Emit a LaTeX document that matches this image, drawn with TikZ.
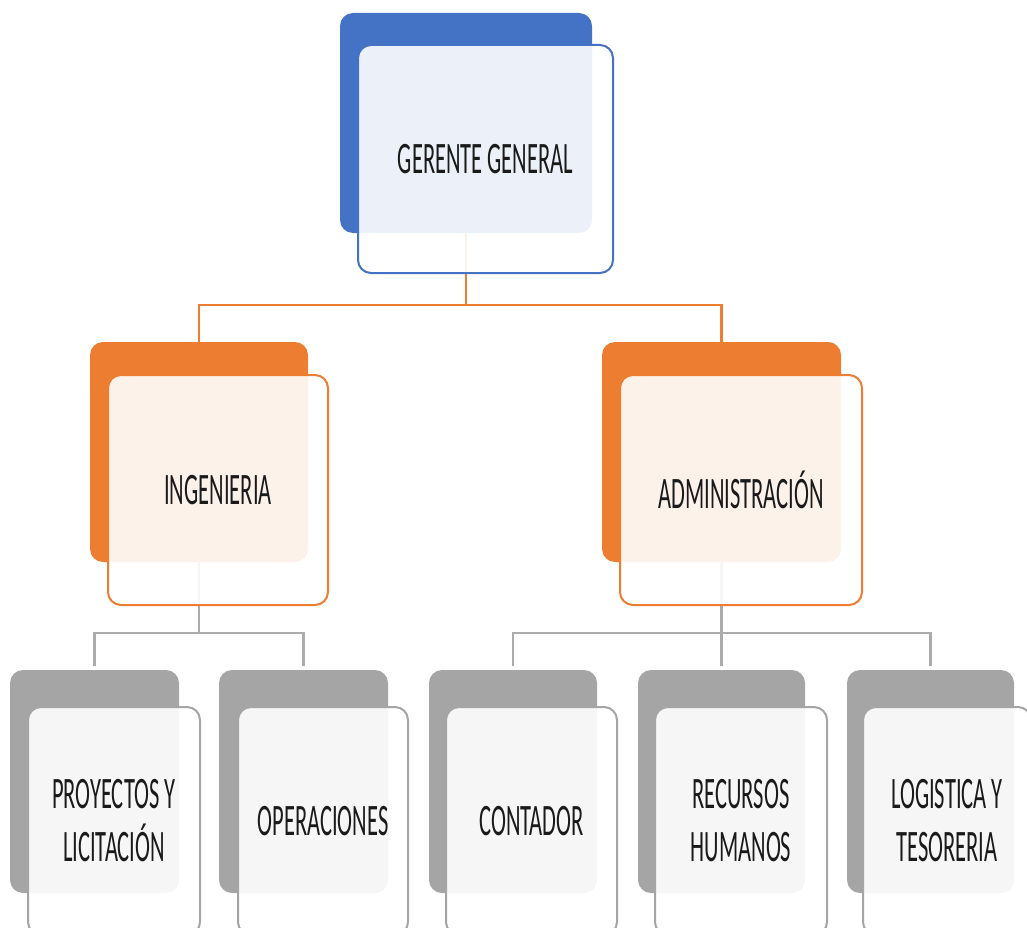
\documentclass[tikz,border=0pt]{standalone}
\usepackage{fontspec}
\newfontfamily\condfont{Carlito}[FakeStretch=0.5]
\definecolor{cblue}{HTML}{4472C4}
\definecolor{corange}{HTML}{ED7D31}
\definecolor{cgray}{HTML}{A5A5A5}
\definecolor{cline}{HTML}{ABABAB}
\definecolor{ctext}{HTML}{1A1A1A}
\begin{document}
\begin{tikzpicture}[x=1pt,y=-1pt,
  backbox/.style={anchor=north west, inner sep=0pt, outer sep=0pt,
    rounded corners=13pt, fill=#1},
  frontbox/.style={anchor=north west, inner sep=0pt, outer sep=0pt,
    rounded corners=13pt, draw=#1, line width=2pt, fill=white,
    fill opacity=0.9, text opacity=1, text=ctext, align=center,
    font=\condfont\fontsize{45}{53}\selectfont},
  orangeline/.style={draw=corange, line width=2.5pt},
  grayline/.style={draw=cline, line width=2.5pt, shorten >=4pt}]
\useasboundingbox (0,0) rectangle (1027,928);
\clip (0,0) rectangle (1027,928);

% back plates
\node[backbox=cblue, minimum width=252pt, minimum height=220pt] (gb) at (340,13) {};
\node[backbox=corange, minimum width=218pt, minimum height=220pt] (ib) at (90,342) {};
\node[backbox=corange, minimum width=239pt, minimum height=220pt] (ab) at (602,342) {};
\node[backbox=cgray, minimum width=169pt, minimum height=223pt] (b1) at (10,670) {};
\node[backbox=cgray, minimum width=169pt, minimum height=223pt] (b2) at (219,670) {};
\node[backbox=cgray, minimum width=168pt, minimum height=223pt] (b3) at (429,670) {};
\node[backbox=cgray, minimum width=167pt, minimum height=223pt] (b4) at (638,670) {};
\node[backbox=cgray, minimum width=167pt, minimum height=223pt] (b5) at (847,670) {};

% connectors
\draw[orangeline] (gb.south) -- ++(0,72) -| (ib.north);
\draw[orangeline] (gb.south) -- ++(0,72) -| (ab.north);
\draw[grayline] (ib.south) -- ++(0,71) -| (b1.north);
\draw[grayline] (ib.south) -- ++(0,71) -| (b2.north);
\draw[grayline] (ab.south) -- ++(0,71) -| (b3.north);
\draw[grayline] (ab.south) -- ++(0,71) -| (b4.north);
\draw[grayline] (ab.south) -- ++(0,71) -| (b5.north);

% front cards
\node[frontbox=cblue, minimum width=255pt, minimum height=228pt] (gf) at (358,45) {GERENTE GENERAL};
\node[frontbox=corange, minimum width=220pt, minimum height=230pt] (if) at (108,375) {INGENIERIA};
\node[frontbox=corange, minimum width=242pt, minimum height=230pt] (af) at (620,375) {ADMINISTRACIÓN};
\node[frontbox=cgray, minimum width=172pt, minimum height=228pt] (f1) at (28,707) {PROYECTOS Y\\LICITACIÓN};
\node[frontbox=cgray, minimum width=170pt, minimum height=228pt] (f2) at (238,707) {OPERACIONES};
\node[frontbox=cgray, minimum width=171pt, minimum height=228pt] (f3) at (446,707) {CONTADOR};
\node[frontbox=cgray, minimum width=172pt, minimum height=228pt] (f4) at (655,707) {RECURSOS\\HUMANOS};
\node[frontbox=cgray, minimum width=168pt, minimum height=228pt] (f5) at (863,707) {LOGISTICA Y\\TESORERIA};
\end{tikzpicture}
\end{document}
